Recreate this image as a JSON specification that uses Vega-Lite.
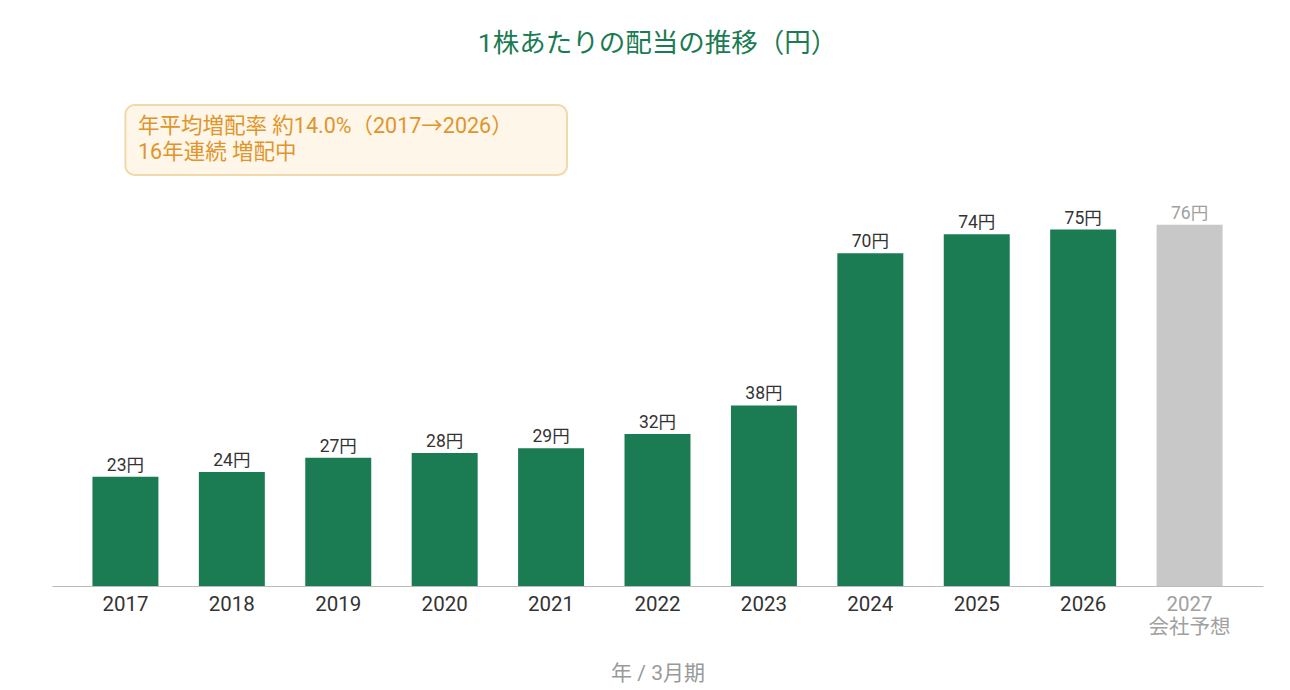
{
  "$schema": "https://vega.github.io/schema/vega-lite/v6.json",
  "width": 1211,
  "height": 499,
  "padding": {"left": 52, "top": 30, "right": 27, "bottom": 10},
  "background": "white",
  "config": {
    "font": "Roboto, Noto Sans CJK JP",
    "view": {"stroke": null}
  },
  "title": {
    "text": "1株あたりの配当の推移（円）",
    "color": "#1b7b53",
    "fontSize": 26.5,
    "fontWeight": "normal",
    "font": "Roboto, Noto Sans CJK JP",
    "anchor": "middle",
    "offset": 30
  },
  "layer": [
    {
      "data": {
        "values": [
          {"year": "2017", "dividend": 23, "kind": "実績", "label": "23円"},
          {"year": "2018", "dividend": 24, "kind": "実績", "label": "24円"},
          {"year": "2019", "dividend": 27, "kind": "実績", "label": "27円"},
          {"year": "2020", "dividend": 28, "kind": "実績", "label": "28円"},
          {"year": "2021", "dividend": 29, "kind": "実績", "label": "29円"},
          {"year": "2022", "dividend": 32, "kind": "実績", "label": "32円"},
          {"year": "2023", "dividend": 38, "kind": "実績", "label": "38円"},
          {"year": "2024", "dividend": 70, "kind": "実績", "label": "70円"},
          {"year": "2025", "dividend": 74, "kind": "実績", "label": "74円"},
          {"year": "2026", "dividend": 75, "kind": "実績", "label": "75円"},
          {"year": "2027", "dividend": 76, "kind": "予想", "label": "76円"}
        ]
      },
      "encoding": {
        "x": {
          "field": "year",
          "type": "nominal",
          "sort": null,
          "scale": {"paddingInner": 0.38, "paddingOuter": 0.38},
          "axis": {
            "title": "年 / 3月期",
            "titleColor": "#999999",
            "titleFontSize": 21,
            "titleFontWeight": "normal",
            "titlePadding": 25,
            "labelAngle": 0,
            "labelFontSize": 20.5,
            "labelPadding": 8,
            "labelLineHeight": 23,
            "labelColor": {"condition": {"test": "datum.value == '2027'", "value": "#a0a0a0"}, "value": "#333333"},
            "labelExpr": "datum.value == '2027' ? ['2027', '会社予想'] : datum.value",
            "ticks": false,
            "domainColor": "#bbbbbb",
            "domainWidth": 1,
            "grid": false
          }
        },
        "y": {
          "field": "dividend",
          "type": "quantitative",
          "scale": {"domain": [0, 105], "nice": false},
          "axis": null
        }
      },
      "layer": [
        {
          "mark": {"type": "bar"},
          "encoding": {
            "color": {
              "field": "kind",
              "type": "nominal",
              "scale": {"domain": ["実績", "予想"], "range": ["#1b7b53", "#c8c8c8"]},
              "legend": null
            }
          }
        },
        {
          "mark": {"type": "text", "fontSize": 17.5, "baseline": "alphabetic", "dy": -6, "align": "center"},
          "encoding": {
            "text": {"field": "label", "type": "nominal"},
            "color": {
              "field": "kind",
              "type": "nominal",
              "scale": {"domain": ["実績", "予想"], "range": ["#333333", "#a0a0a0"]},
              "legend": null
            }
          }
        }
      ],
      "resolve": {"scale": {"color": "independent"}}
    },
    {
      "data": {"values": [{"x0": 0.0, "x1": 4.15, "y0": 101.2, "y1": 86.5}]},
      "mark": {"type": "rect", "fill": "#fef6e9", "stroke": "#f2d9a9", "strokeWidth": 2, "cornerRadius": 9},
      "encoding": {
        "x": {"field": "x0", "type": "quantitative", "scale": {"domain": [-0.69, 10.69], "nice": false, "zero": false}, "axis": null},
        "x2": {"field": "x1"},
        "y": {"field": "y0", "type": "quantitative", "scale": {"domain": [0, 105], "nice": false}, "axis": null},
        "y2": {"field": "y1"}
      }
    },
    {
      "data": {
        "values": [
          {"x": 0.118, "y": 96.6, "note": "年平均増配率 約14.0%（2017→2026）"},
          {"x": 0.118, "y": 91.1, "note": "16年連続 増配中"}
        ]
      },
      "mark": {"type": "text", "align": "left", "baseline": "middle", "fontSize": 21.5, "color": "#e0952b"},
      "encoding": {
        "x": {"field": "x", "type": "quantitative", "scale": {"domain": [-0.69, 10.69], "nice": false, "zero": false}, "axis": null},
        "y": {"field": "y", "type": "quantitative", "scale": {"domain": [0, 105], "nice": false}, "axis": null},
        "text": {"field": "note", "type": "nominal"}
      }
    }
  ],
  "resolve": {"scale": {"x": "independent"}}
}
